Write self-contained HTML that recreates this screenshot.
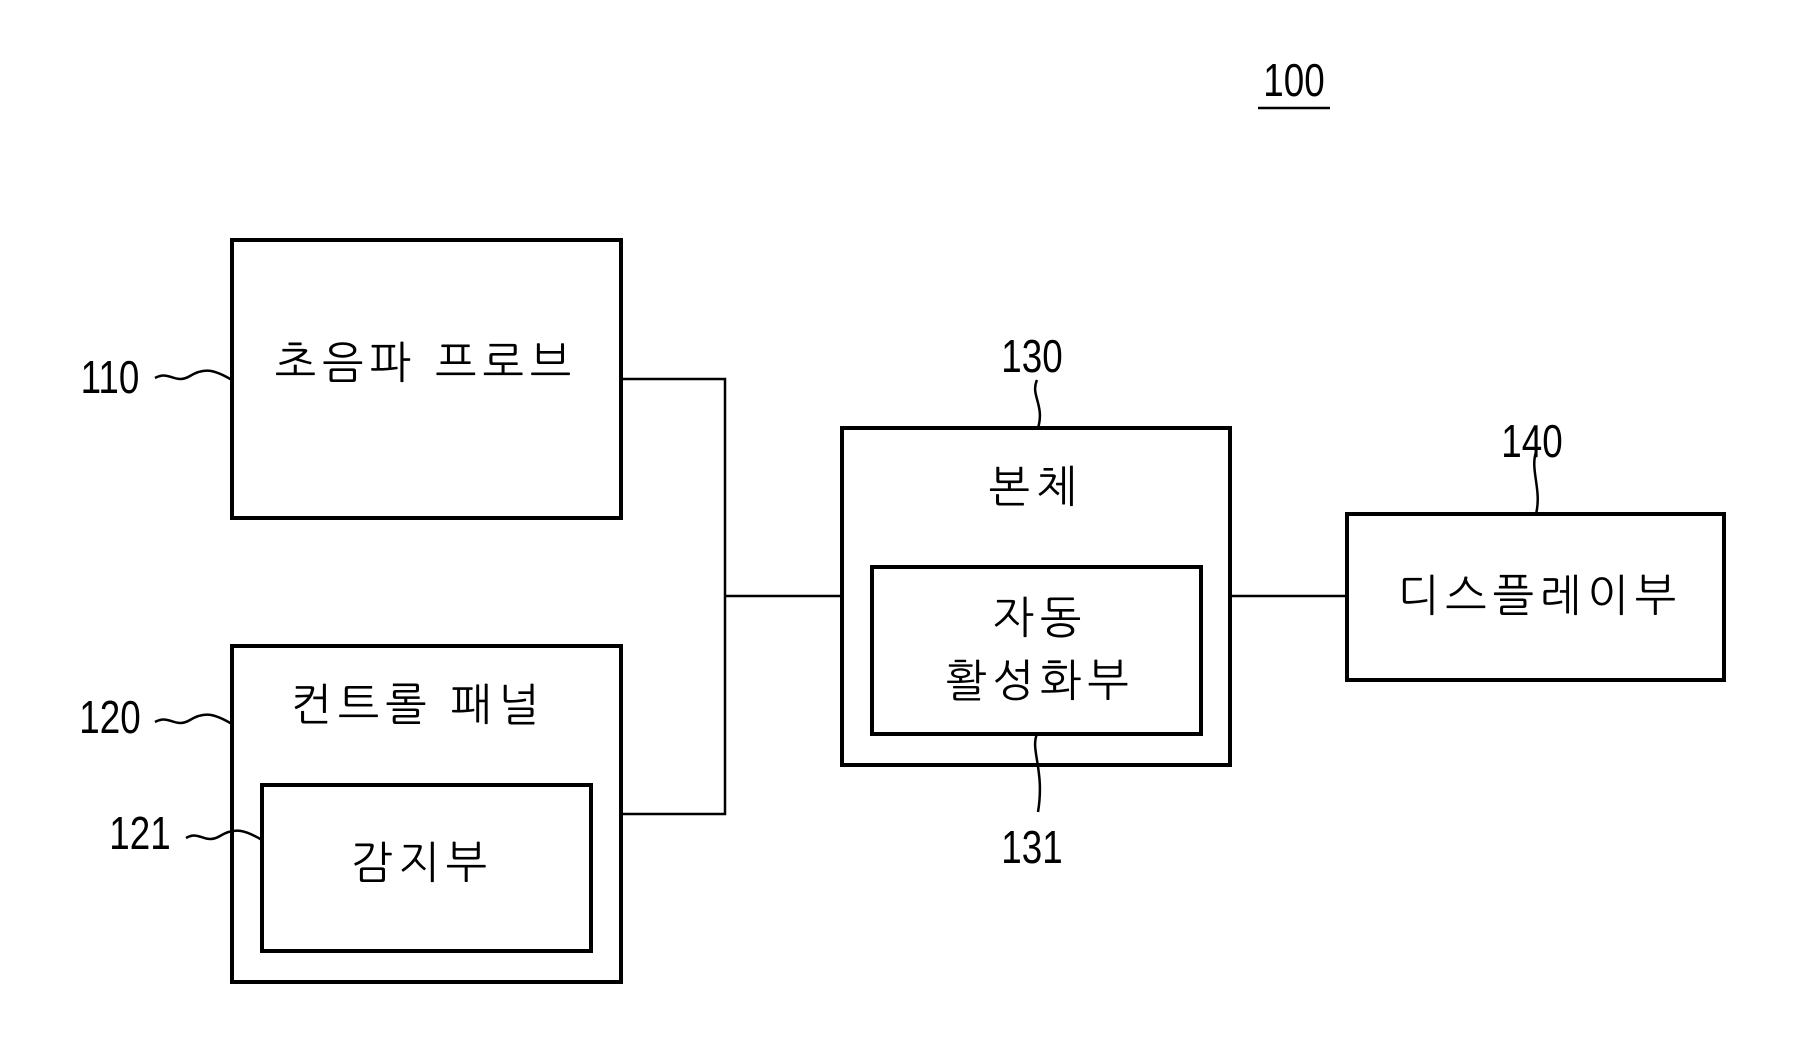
<!DOCTYPE html>
<html><head><meta charset="utf-8"><style>
html,body{margin:0;padding:0;background:#fff;}
svg{display:block}
text{font-family:"Liberation Sans","NanumGothic","Noto Sans CJK KR",sans-serif;fill:#000}
.n{font-size:46px;}
.k{font-size:44px;letter-spacing:6px}
</style></head><body>
<svg width="1794" height="1057" viewBox="0 0 1794 1057">
<g fill="none" stroke="#000" stroke-width="4">
<rect x="232" y="240" width="389" height="278"/>
<rect x="232" y="646" width="389" height="336"/>
<rect x="262" y="785" width="329" height="166"/>
<rect x="842" y="428" width="388" height="337"/>
<rect x="872" y="567" width="329" height="167"/>
<rect x="1347" y="514" width="377" height="166"/>
</g>
<g fill="none" stroke="#000" stroke-width="2.5">
<polyline points="621,379 725,379 725,814 621,814"/>
<line x1="725" y1="596" x2="842" y2="596"/>
<line x1="1230" y1="596" x2="1347" y2="596"/>
<path d="M155,378 C170,370 175,385 190,376 S215,370 232,380"/>
<path d="M155,722 C170,714 175,729 190,720 S215,714 232,724"/>
<path d="M186,838 C200,830 205,845 220,836 S245,830 262,840"/>
<path d="M1037,380 C1030,395 1045,405 1038,428"/>
<path d="M1536,452 C1530,470 1542,490 1536,514"/>
<path d="M1037,734 C1030,750 1045,770 1038,812"/>
<line x1="1258" y1="108" x2="1330" y2="108"/>
</g>
<g class="n" text-anchor="middle">
<text x="1294" y="96" transform="translate(1294 0) scale(0.8 1) translate(-1294 0)">100</text>
<text x="110" y="393" transform="translate(110 0) scale(0.8 1) translate(-110 0)">110</text>
<text x="110" y="733" transform="translate(110 0) scale(0.8 1) translate(-110 0)">120</text>
<text x="140" y="849" transform="translate(140 0) scale(0.8 1) translate(-140 0)">121</text>
<text x="1032" y="372" transform="translate(1032 0) scale(0.8 1) translate(-1032 0)">130</text>
<text x="1532" y="457" transform="translate(1532 0) scale(0.8 1) translate(-1532 0)">140</text>
<text x="1032" y="863" transform="translate(1032 0) scale(0.8 1) translate(-1032 0)">131</text>
</g>
<g class="k" text-anchor="middle">
<text x="426" y="378">초음파 프로브</text>
<text x="418" y="720">컨트롤 패널</text>
<text x="422" y="878">감지부</text>
<text x="1036" y="502">본체</text>
<text x="1040" y="633">자동</text>
<text x="1040" y="696">활성화부</text>
<text x="1540" y="611">디스플레이부</text>
</g>
</svg>
</body></html>
